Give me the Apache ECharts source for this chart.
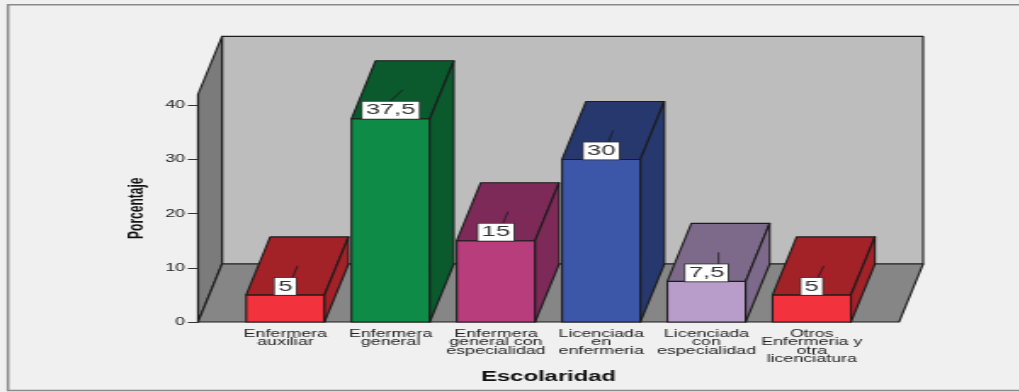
<!DOCTYPE html>
<html>
<head>
<meta charset="utf-8">
<style>
  html, body { margin: 0; padding: 0; width: 1019px; height: 392px; overflow: hidden; background: #f0f0f0; }
  #chart { width: 600px; height: 392px; transform: scaleX(1.7); transform-origin: 0 0; }
</style>
<script src="https://cdn.jsdelivr.net/npm/echarts@6/dist/echarts.min.js"></script>
</head>
<body>
<div id="chart"></div>
<script>
const categories = [
  'Enfermera\nauxiliar',
  'Enfermera\ngeneral',
  'Enfermera\ngeneral con\nespecialidad',
  'Licenciada\nen\nenfermeria',
  'Licenciada\ncon\nespecialidad',
  'Otros\nEnfermeria y\notra\nlicenciatura'
];
const percentages = [5, 37.5, 15, 30, 7.5, 5];
const valueTicks = [0, 10, 20, 30, 40];
const frontColors = ['#f2333d', '#0e8c47', '#b83d7c', '#3c56a8', '#b89cca', '#f2333d'];
const shadeColors = ['#a22228', '#0a5a2e', '#7d2a58', '#26386e', '#7d6a8a', '#a22228'];

// The drawing is laid out narrow and widened by the CSS transform, so x lengths are in narrow units.
const WIDEN = 1.7;
const DEPTH_X = 24 / WIDEN;
const DEPTH_Y = 58;
const SIDE_PAD = 34.7 / WIDEN;
const EDGE = '#1c1c1c';
const EDGE_WIDTH = 1.1;
const FONT_FAMILY = '"Liberation Sans"';
// Horizontal lean of each leader line, measured back from the centre of the bar's top face.
const LEADER_LEAN = [-5, -13, -5, -5, 0, -6].map(d => d / WIDEN);

function face(points, fill) {
  return {
    type: 'polygon',
    shape: { points },
    style: { fill, stroke: EDGE, lineWidth: EDGE_WIDTH, lineJoin: 'round' }
  };
}

function renderRoom(params, api) {
  const cs = params.coordSys;
  const x0 = cs.x - SIDE_PAD;
  const x1 = cs.x + cs.width + SIDE_PAD;
  const yBase = api.coord([0, 0])[1];
  const yTop = cs.y;
  return {
    type: 'group',
    children: [
      face([[x0 + DEPTH_X, yTop - DEPTH_Y], [x1 + DEPTH_X, yTop - DEPTH_Y],
            [x1 + DEPTH_X, yBase - DEPTH_Y], [x0 + DEPTH_X, yBase - DEPTH_Y]], '#bdbdbd'),
      face([[x0, yTop], [x0 + DEPTH_X, yTop - DEPTH_Y],
            [x0 + DEPTH_X, yBase - DEPTH_Y], [x0, yBase]], '#7b7b7b'),
      face([[x0, yBase], [x0 + DEPTH_X, yBase - DEPTH_Y],
            [x1 + DEPTH_X, yBase - DEPTH_Y], [x1, yBase]], '#868686')
    ]
  };
}

function renderBar(params, api) {
  const i = api.value(0);
  const value = api.value(1);
  const top = api.coord([i, value]);
  const base = api.coord([i, 0]);
  const halfWidth = api.size([1, 0])[0] * 0.372;
  const xL = top[0] - halfWidth;
  const xR = top[0] + halfWidth;
  const yT = top[1];
  const yB = base[1];
  const cx = top[0];
  return {
    type: 'group',
    children: [
      face([[xL, yB], [xR, yB], [xR, yT], [xL, yT]], frontColors[i]),
      face([[xL, yT], [xL + DEPTH_X, yT - DEPTH_Y],
            [xR + DEPTH_X, yT - DEPTH_Y], [xR, yT]], shadeColors[i]),
      face([[xR, yB], [xR + DEPTH_X, yB - DEPTH_Y],
            [xR + DEPTH_X, yT - DEPTH_Y], [xR, yT]], shadeColors[i]),
      {
        type: 'line',
        shape: {
          x1: cx + DEPTH_X / 2, y1: yT - DEPTH_Y / 2,
          x2: cx + DEPTH_X / 2 + LEADER_LEAN[i], y2: yT - 17
        },
        style: { stroke: EDGE, lineWidth: 0.8 }
      },
      {
        type: 'text',
        x: cx,
        y: yT,
        style: {
          text: String(value).replace('.', ','),
          font: '15px ' + FONT_FAMILY,
          fill: '#333333',
          align: 'center',
          verticalAlign: 'bottom',
          backgroundColor: '#ffffff',
          borderColor: '#333333',
          borderWidth: 0.8,
          padding: [1, 2, 1, 2]
        }
      }
    ]
  };
}

const chart = echarts.init(document.getElementById('chart'), null, { renderer: 'canvas' });
chart.setOption({
  backgroundColor: '#f0f0f0',
  animation: false,
  grid: {
    left: 232.7 / WIDEN,
    right: 600 - 864.4 / WIDEN,
    top: 94.4,
    bottom: 70
  },
  graphic: [{
    type: 'polyline',
    z: 0,
    shape: { points: [[600, 4.8], [4.7, 4.8], [4.7, 390.5], [600, 390.5]] },
    style: { fill: 'none', stroke: '#8a8a8a', lineWidth: 1.5 }
  }],
  xAxis: {
    type: 'category',
    data: categories,
    name: 'Escolaridad',
    nameLocation: 'middle',
    nameGap: 48,
    nameTextStyle: { fontFamily: FONT_FAMILY, fontSize: 14, fontWeight: 'bold', color: '#111111' },
    axisLine: { show: false },
    axisTick: { alignWithLabel: true, length: 5, lineStyle: { color: EDGE, width: 1.1 } },
    axisLabel: {
      interval: 0,
      margin: 8,
      fontFamily: FONT_FAMILY,
      fontSize: 10.5,
      color: '#222222',
      lineHeight: 8.4,
      verticalAlign: 'top'
    },
    z: 6
  },
  yAxis: {
    type: 'value',
    min: 0,
    max: 42,
    interval: 10,
    offset: SIDE_PAD,
    name: 'Porcentaje',
    nameLocation: 'middle',
    nameRotate: 90,
    nameGap: 29.5,
    nameTextStyle: { fontFamily: FONT_FAMILY, fontSize: 12, fontWeight: 'bold', color: '#111111' },
    splitLine: { show: false },
    axisLine: { show: true, lineStyle: { color: EDGE, width: 1.1 } },
    axisTick: { show: true, length: 6, customValues: valueTicks, lineStyle: { color: '#333333', width: 1 } },
    axisLabel: { margin: 7.6, fontFamily: FONT_FAMILY, fontSize: 10.5, color: '#222222', customValues: valueTicks },
    z: 6
  },
  series: [
    { type: 'custom', name: 'room', renderItem: renderRoom, data: [[0, 0]], encode: { x: 0, y: 1 }, z: 1, silent: true, clip: false },
    { type: 'custom', name: 'Porcentaje', renderItem: renderBar, data: percentages.map((v, i) => [i, v]), encode: { x: 0, y: 1 }, z: 2, clip: false }
  ]
});
</script>
</body>
</html>
